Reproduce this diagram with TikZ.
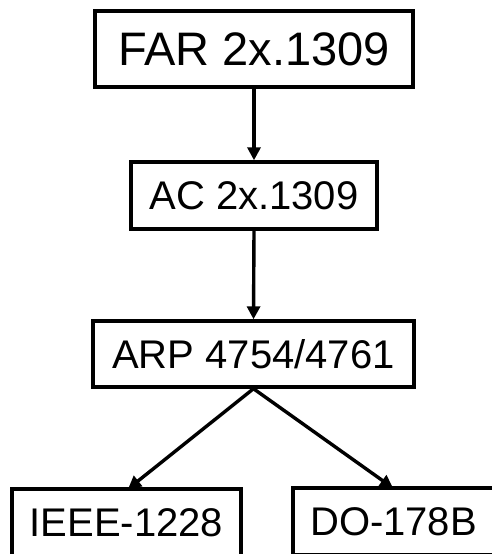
\documentclass[tikz,border=0pt]{standalone}
\usepackage{fontspec}
\setmainfont{Liberation Sans}
\usetikzlibrary{arrows.meta}
\begin{document}
\begin{tikzpicture}[x=1pt,y=-1pt,
  box/.style={draw=black,line width=3.4pt,inner sep=0pt,anchor=center,font=\fontsize{40}{48}\selectfont},
  conn/.style={line width=3.4pt,-{Triangle[length=13pt,width=13pt]}}]
\useasboundingbox (0,0) rectangle (492,554);
\clip (0,0) rectangle (492,554);
\node[box,minimum width=318pt,minimum height=76pt,font=\fontsize{47}{56}\selectfont] (far) at (254,49) {FAR 2x.1309};
\node[box,minimum width=246pt,minimum height=67pt] (ac) at (254,195.5) {AC 2x.1309};
\node[box,minimum width=321pt,minimum height=66pt] (arp) at (253.5,354) {ARP 4754/4761};
\node[box,minimum width=229pt,minimum height=67pt] (ieee) at (126.5,522.5) {IEEE-1228};
\node[box,minimum width=203pt,minimum height=67pt,text width=203pt,align=center] (do) at (394.5,521.5) {\hspace*{-2pt}DO-178B};
\coordinate (t1) at (128,489);
\coordinate (t2) at (393,488);
\draw[conn] (far.south) -- (ac.north);
\draw[conn] (ac.south) -- (arp.north);
\draw[conn] (arp.south) -- (t1);
\draw[conn] (arp.south) -- (t2);
\end{tikzpicture}
\end{document}
